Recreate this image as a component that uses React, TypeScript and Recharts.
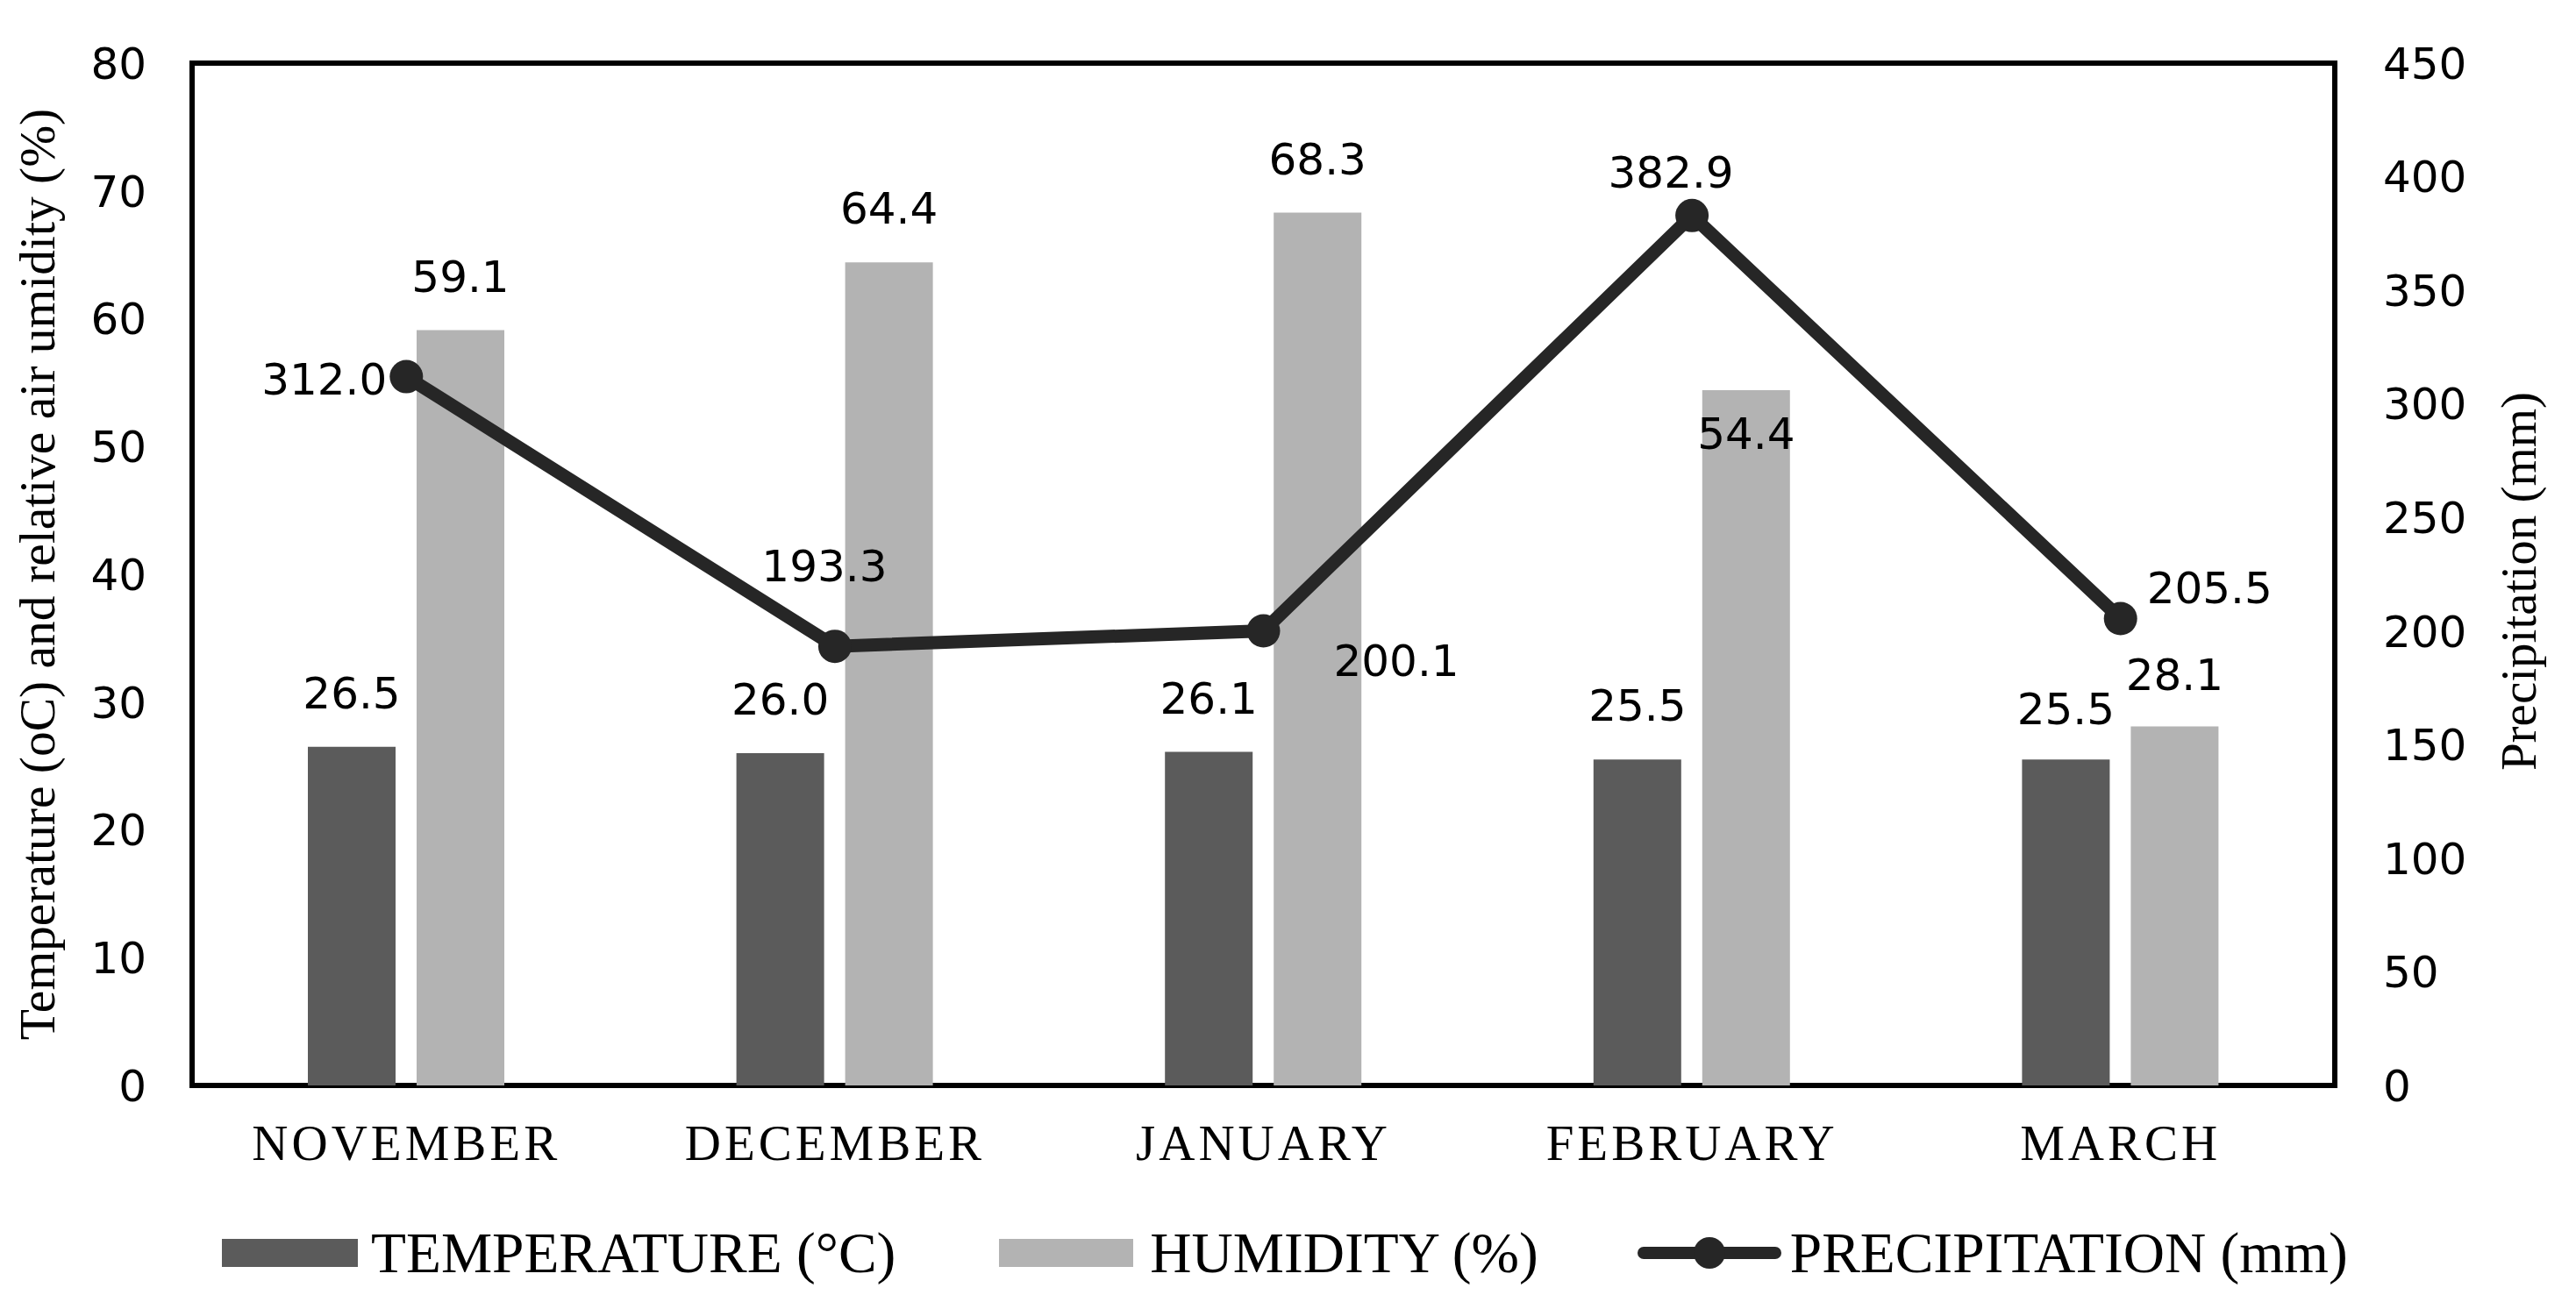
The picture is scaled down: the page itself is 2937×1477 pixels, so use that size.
import React from "react";
import { ComposedChart, Bar, Line, XAxis, YAxis, ReferenceArea, LabelList, Legend, Label } from "recharts";

const months = ["NOVEMBER", "DECEMBER", "JANUARY", "FEBRUARY", "MARCH"];
const temperature = [26.5, 26.0, 26.1, 25.5, 25.5];
const humidity = [59.1, 64.4, 68.3, 54.4, 28.1];
const precipitation = [312.0, 193.3, 200.1, 382.9, 205.5];
const leftTicks = [0, 10, 20, 30, 40, 50, 60, 70, 80];
const rightTicks = [0, 50, 100, 150, 200, 250, 300, 350, 400, 450];

const seriesNames = ["TEMPERATURE (°C)", "HUMIDITY (%)", "PRECIPITATION (mm)"];

const data = months.map((m, i) => ({
  month: m,
  temp: temperature[i],
  hum: humidity[i],
  prec: precipitation[i],
}));

const TEMP_COLOR = "#5b5b5b";
const HUM_COLOR = "#b3b3b3";
const LINE_COLOR = "#262626";
const SERIF = "'Liberation Serif', 'Times New Roman', serif";
const SANS = "'DejaVu Sans', Verdana, sans-serif";

// where Excel put each precipitation label, relative to its point
const precLabelPos = [
  { anchor: "end", dx: -22, dy: 20 },
  { anchor: "middle", dx: -12, dy: -74 },
  { anchor: "start", dx: 80, dy: 51 },
  { anchor: "middle", dx: -24, dy: -32 },
  { anchor: "start", dx: 30, dy: -18 },
];
const tempLabelDy = [-44, -44, -44, -44, -40];
const humLabelDy = [-44, -44, -44, 67, -41];

function barLabel(dys: number[]) {
  return (props: any) => {
    const vb = props.viewBox ?? props;
    const x = vb.x + vb.width / 2;
    const y = vb.y + dys[props.index];
    return (
      <text x={x} y={y} textAnchor="middle" fontFamily={SANS} fontSize={50} fill="#000">
        {Number(props.value).toFixed(1)}
      </text>
    );
  };
}

function precLabel(props: any) {
  const vb = props.viewBox ?? props;
  const p = precLabelPos[props.index];
  return (
    <text x={vb.x + p.dx} y={vb.y + p.dy} textAnchor={p.anchor} fontFamily={SANS} fontSize={50} fill="#000">
      {Number(props.value).toFixed(1)}
    </text>
  );
}

function LegendContent() {
  return (
    <div style={{ display: "flex", alignItems: "center", height: 80, paddingLeft: 245, fontFamily: SERIF, fontSize: 65.4, color: "#000", whiteSpace: "nowrap" }}>
      <div style={{ width: 155, height: 32, background: TEMP_COLOR }} />
      <span style={{ marginLeft: 15, marginRight: 118 }}>{seriesNames[0]}</span>
      <div style={{ width: 153, height: 32, background: HUM_COLOR }} />
      <span style={{ marginLeft: 19, marginRight: 113 }}>{seriesNames[1]}</span>
      <svg width={164} height={40}>
        <line x1={7} y1={20} x2={157} y2={20} stroke={LINE_COLOR} strokeWidth={14} strokeLinecap="round" />
        <circle cx={82} cy={20} r={18} fill={LINE_COLOR} />
      </svg>
      <span style={{ marginLeft: 10 }}>{seriesNames[2]}</span>
    </div>
  );
}

export default function App() {
  return (
    <div style={{ width: 2921, height: 1461, background: "#fff" }}>
      <ComposedChart
        width={2921}
        height={1461}
        data={data}
        margin={{ top: 64, right: 107, left: 71, bottom: 131 }}
        barSize={100}
        barGap={24}
      >
        <XAxis
          dataKey="month"
          xAxisId={0}
          axisLine={false}
          tickLine={false}
          tickSize={0}
          tickMargin={45}
          height={100}
          interval={0}
          tick={{ fontFamily: SERIF, fontSize: 57, fill: "#000", letterSpacing: 4 }}
        />
        <YAxis
          yAxisId="left"
          orientation="left"
          domain={[0, 80]}
          ticks={leftTicks}
          width={140}
          axisLine={false}
          tickLine={false}
          tickSize={0}
          tickMargin={52}
          tick={{ fontFamily: SANS, fontSize: 50, fill: "#000" }}
        >
          <Label
            content={(props: any) => {
              const vb = props.viewBox;
              const cx = vb.x - 17;
              const cy = vb.y + vb.height / 2;
              return (
                <text x={cx} y={cy} transform={`rotate(-90, ${cx}, ${cy})`} textAnchor="middle" fontFamily={SERIF} fontSize={57.5} fill="#000">
                  Temperature (oC) and relative air umidity (%)
                </text>
              );
            }}
          />
        </YAxis>
        <YAxis
          yAxisId="right"
          orientation="right"
          domain={[0, 450]}
          ticks={rightTicks}
          width={160}
          axisLine={false}
          tickLine={false}
          tickSize={0}
          tickMargin={55}
          tick={{ fontFamily: SANS, fontSize: 50, fill: "#000" }}
        >
          <Label
            content={(props: any) => {
              const vb = props.viewBox;
              const cx = vb.x + 229;
              const cy = vb.y + vb.height / 2 + 8;
              return (
                <text x={cx} y={cy} transform={`rotate(-90, ${cx}, ${cy})`} textAnchor="middle" fontFamily={SERIF} fontSize={57} fill="#000">
                  Precipitation (mm)
                </text>
              );
            }}
          />
        </YAxis>
        <Bar dataKey="temp" name={seriesNames[0]} yAxisId="left" fill={TEMP_COLOR} isAnimationActive={false}>
          <LabelList dataKey="temp" content={barLabel(tempLabelDy)} />
        </Bar>
        <Bar dataKey="hum" name={seriesNames[1]} yAxisId="left" fill={HUM_COLOR} isAnimationActive={false}>
          <LabelList dataKey="hum" content={barLabel(humLabelDy)} />
        </Bar>
        <Line
          dataKey="prec"
          name={seriesNames[2]}
          yAxisId="right"
          type="linear"
          stroke={LINE_COLOR}
          strokeWidth={15}
          dot={{ r: 19, fill: LINE_COLOR, stroke: LINE_COLOR, strokeWidth: 0 }}
          activeDot={false}
          isAnimationActive={false}
        >
          <LabelList dataKey="prec" content={precLabel} />
        </Line>
        <ReferenceArea yAxisId="left" y1={0} y2={80} fill="none" stroke="#000" strokeWidth={6} ifOverflow="visible" />
        <Legend
          layout="horizontal"
          align="center"
          verticalAlign="middle"
          content={<LegendContent />}
          wrapperStyle={{ top: 1381, left: 0, width: 2921, height: 80 }}
        />
      </ComposedChart>
    </div>
  );
}
